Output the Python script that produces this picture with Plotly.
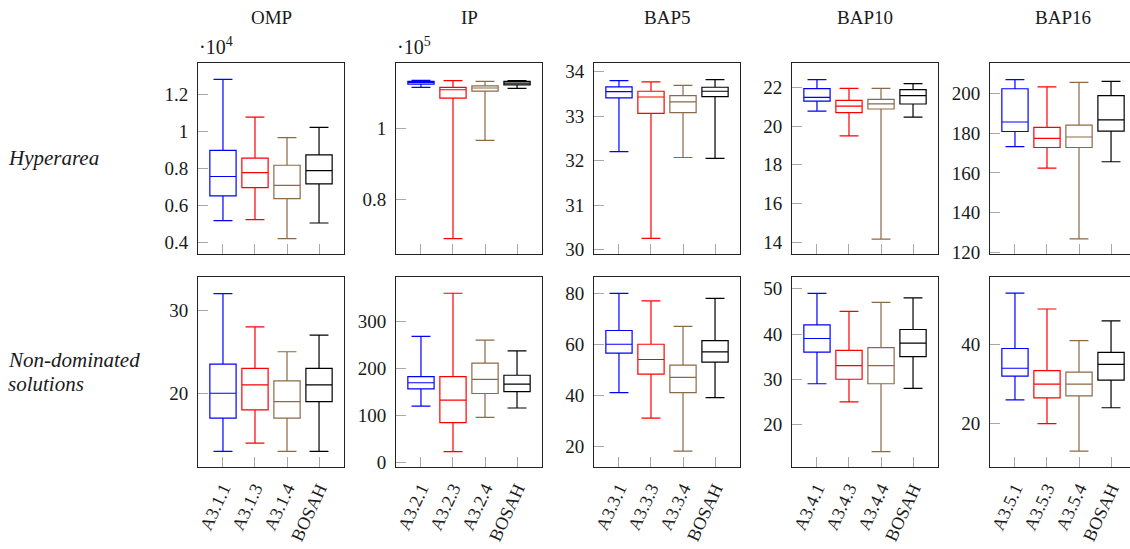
import plotly.graph_objects as go

W, H = 1130, 549

methods = ["OMP", "IP", "BAP5", "BAP10", "BAP16"]
colors = ["#0000ff", "#ff0000", "#8b6a46", "#000000"]

# algorithm names per instance family
names_omp = ["A3.1.1", "A3.1.3", "A3.1.4", "BOSAH"]
names_ip = ["A3.2.1", "A3.2.3", "A3.2.4", "BOSAH"]
names_bap5 = ["A3.3.1", "A3.3.3", "A3.3.4", "BOSAH"]
names_bap10 = ["A3.4.1", "A3.4.3", "A3.4.4", "BOSAH"]
names_bap16 = ["A3.5.1", "A3.5.3", "A3.5.4", "BOSAH"]

# Hyperarea box statistics (lower whisker, Q1, median, Q3, upper whisker)
hyp_omp = dict(lo=[0.518, 0.523, 0.420, 0.505], q1=[0.652, 0.697, 0.637, 0.717],
               med=[0.757, 0.778, 0.709, 0.789], q3=[0.898, 0.856, 0.818, 0.874],
               hi=[1.283, 1.079, 0.968, 1.023])            # x 10^4
hyp_ip = dict(lo=[1.118, 0.688, 0.967, 1.115], q1=[1.127, 1.087, 1.107, 1.125],
              med=[1.132, 1.111, 1.116, 1.130], q3=[1.135, 1.118, 1.122, 1.135],
              hi=[1.138, 1.137, 1.135, 1.137])             # x 10^5
hyp_bap5 = dict(lo=[32.20, 30.25, 32.07, 32.05], q1=[33.41, 33.06, 33.08, 33.44],
                med=[33.55, 33.43, 33.32, 33.56], q3=[33.66, 33.56, 33.46, 33.65],
                hi=[33.80, 33.77, 33.69, 33.82])
hyp_bap10 = dict(lo=[20.77, 19.49, 14.15, 20.46], q1=[21.29, 20.69, 20.88, 21.14],
                 med=[21.48, 21.03, 21.15, 21.57], q3=[21.93, 21.33, 21.38, 21.88],
                 hi=[22.40, 21.95, 21.95, 22.19])
hyp_bap16 = dict(lo=[173.3, 162.4, 126.6, 165.6], q1=[180.9, 172.8, 172.8, 181.1],
                 med=[185.7, 177.4, 178.1, 186.8], q3=[202.5, 183.0, 184.1, 199.0],
                 hi=[207.1, 203.4, 205.7, 206.2])

# Number of non-dominated solutions
nd_omp = dict(lo=[13, 14, 13, 13], q1=[17, 18, 17, 19], med=[20, 21, 19, 21],
              q3=[23.5, 23, 21.5, 23], hi=[32, 28, 25, 27])
nd_ip = dict(lo=[120, 23, 96, 116], q1=[157, 85, 147, 151], med=[170, 133, 177, 167],
             q3=[183, 183, 212, 186], hi=[269, 361, 261, 238])
nd_bap5 = dict(lo=[41, 31, 18, 39], q1=[56.5, 48.3, 41, 53], med=[60, 54, 47, 57],
               q3=[65.4, 60, 51.8, 61.4], hi=[80, 77, 67, 78])
nd_bap10 = dict(lo=[29, 25, 14, 28], q1=[36, 30, 29, 35], med=[39, 33, 33, 38],
                q3=[42, 36.4, 37, 41], hi=[49, 45, 47, 48])
nd_bap16 = dict(lo=[26, 20, 13, 24], q1=[32, 26.5, 27, 31], med=[34, 30, 30, 35],
                q3=[39, 33.4, 33, 38], hi=[53, 49, 41, 46])

row_stats = [[hyp_omp, hyp_ip, hyp_bap5, hyp_bap10, hyp_bap16],
             [nd_omp, nd_ip, nd_bap5, nd_bap10, nd_bap16]]
col_names = [names_omp, names_ip, names_bap5, names_bap10, names_bap16]

# panel geometry in pixels
col_left = [198, 396, 594, 792, 990]
panel_w = 146
row_top = [63, 277]
row_bot = [254, 467]
y_ranges = [[(0.337, 1.372), (0.6445, 1.187), (29.90, 34.195), (13.38, 23.26), (119.0, 215.5)],
            [(11.12, 34.0), (-9.9, 395.7), (11.8, 86.4), (10.6, 52.6), (9.0, 57.1)]]
y_dticks = [[0.2, 0.2, 1, 2, 20], [10, 100, 20, 10, 20]]

FONT = "Liberation Serif"
TXT = "#1a1a1a"
tick_font = dict(family=FONT, size=19, color=TXT)
xlabel_font = dict(family=FONT, size=18, color=TXT)
TICK_GREY = "#a8a8a8"

fig = go.Figure()
layout = {}
for r in range(2):
    for c in range(5):
        k = r * 5 + c + 1
        xa = "x" if k == 1 else f"x{k}"
        ya = "y" if k == 1 else f"y{k}"
        st = row_stats[r][c]
        for i, name in enumerate(col_names[c]):
            fig.add_trace(go.Box(
                x=[name], lowerfence=[st["lo"][i]], q1=[st["q1"][i]],
                median=[st["med"][i]], q3=[st["q3"][i]], upperfence=[st["hi"][i]],
                boxpoints=False, width=0.82, whiskerwidth=0.72,
                line=dict(color=colors[i], width=1.2), fillcolor="rgba(255,255,255,0)",
                xaxis=xa, yaxis=ya, showlegend=False, hoverinfo="skip"))
        x0 = col_left[c]
        x1 = min(x0 + panel_w, W)
        span = 4.56 * (x1 - x0) / panel_w
        layout[f"xaxis{k}" if k > 1 else "xaxis"] = dict(
            domain=[x0 / W, x1 / W], anchor=ya, type="category",
            categoryorder="array", categoryarray=col_names[c],
            range=[-0.78, -0.78 + span], showline=True, linecolor="#222", linewidth=1,
            mirror=True, ticks="inside", ticklen=10, tickcolor=TICK_GREY, tickwidth=1,
            showgrid=False, zeroline=False, showticklabels=(r == 1),
            tickangle=-65, tickfont=xlabel_font, ticklabelstandoff=3,
            automargin=False, fixedrange=True)
        layout[f"yaxis{k}" if k > 1 else "yaxis"] = dict(
            domain=[1 - row_bot[r] / H, 1 - row_top[r] / H], anchor=xa,
            range=list(y_ranges[r][c]), dtick=y_dticks[r][c], tick0=0,
            showline=True, linecolor="#222", linewidth=1, mirror=True,
            ticks="inside", ticklen=10, tickcolor=TICK_GREY, tickwidth=1,
            showgrid=False, zeroline=False, tickfont=tick_font,
            ticklabelstandoff=5, automargin=False, fixedrange=True)

annotations = []
for c, m in enumerate(methods):
    annotations.append(dict(text=m, x=(col_left[c] + panel_w / 2) / W, y=1 - 17 / H,
                            xref="paper", yref="paper", showarrow=False,
                            font=dict(family=FONT, size=19, color=TXT),
                            xanchor="center", yanchor="middle"))
for c, exp in [(0, 4), (1, 5)]:
    annotations.append(dict(text=f"·10<sup>{exp}</sup>", x=(col_left[c] - 1) / W,
                            y=1 - 46 / H, xref="paper", yref="paper", showarrow=False,
                            font=dict(family=FONT, size=20, color=TXT),
                            xanchor="left", yanchor="middle"))
row_labels = [("Hyperarea", 158), ("Non-dominated", 360), ("solutions", 384)]
for txt, py in row_labels:
    annotations.append(dict(text=f"<i>{txt}</i>", x=6 / W, y=1 - py / H,
                            xref="paper", yref="paper", showarrow=False, align="left",
                            font=dict(family=FONT, size=21, color=TXT),
                            xanchor="left", yanchor="middle"))

fig.update_layout(**layout)
fig.update_layout(template="none", width=W, height=H, margin=dict(l=0, r=0, t=0, b=0),
                  paper_bgcolor="white", plot_bgcolor="white",
                  boxmode="overlay", annotations=annotations)

fig.write_html("out.html", config=dict(displayModeBar=False))
